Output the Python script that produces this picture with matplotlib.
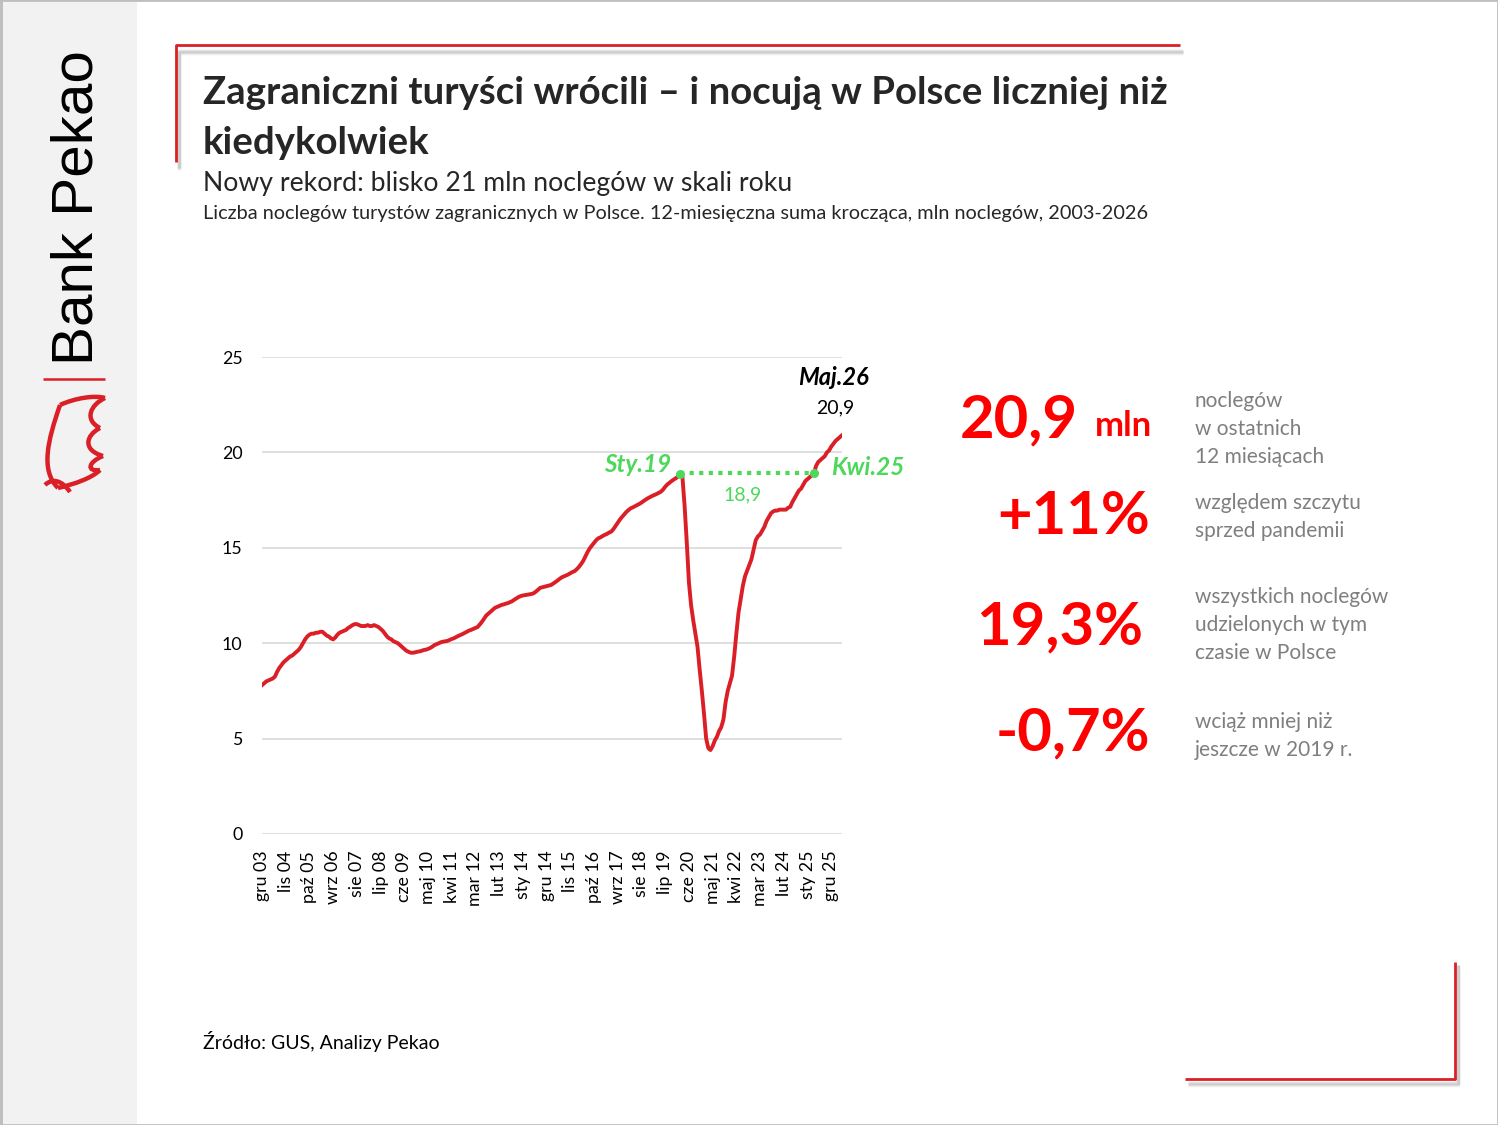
import matplotlib
matplotlib.use("Agg")
import matplotlib.pyplot as plt
from matplotlib.patches import Rectangle, PathPatch
from matplotlib.path import Path
from matplotlib.lines import Line2D
import numpy as np

plt.rcParams["font.family"] = ["Lato", "DejaVu Sans"]

# 12-month rolling sum of foreign tourists' nights, mln, Dec 2003 .. May 2026
values = [
    7.8,
    # 2004
    7.9, 8.0, 8.05, 8.1, 8.15, 8.25, 8.5, 8.7, 8.85, 9.0, 9.1, 9.2,
    # 2005
    9.3, 9.35, 9.45, 9.55, 9.65, 9.8, 10.0, 10.2, 10.35, 10.45, 10.5, 10.5,
    # 2006
    10.55, 10.55, 10.6, 10.6, 10.5, 10.4, 10.35, 10.25, 10.2, 10.3, 10.45, 10.55,
    # 2007
    10.6, 10.65, 10.7, 10.8, 10.87, 10.95, 11.0, 11.0, 10.95, 10.9, 10.9, 10.9,
    # 2008
    10.95, 10.9, 10.9, 10.95, 10.9, 10.85, 10.75, 10.65, 10.5, 10.35, 10.25, 10.2,
    # 2009
    10.1, 10.05, 10.0, 9.9, 9.8, 9.7, 9.6, 9.55, 9.5, 9.5, 9.52, 9.55,
    # 2010
    9.57, 9.6, 9.64, 9.66, 9.7, 9.75, 9.82, 9.9, 9.95, 10.0, 10.05, 10.08,
    # 2011
    10.1, 10.12, 10.17, 10.22, 10.26, 10.32, 10.38, 10.43, 10.48, 10.54, 10.6, 10.66,
    # 2012
    10.7, 10.75, 10.8, 10.85, 10.98, 11.12, 11.28, 11.45, 11.55, 11.65, 11.75, 11.85,
    # 2013
    11.9, 11.95, 12.0, 12.03, 12.07, 12.1, 12.15, 12.2, 12.28, 12.35, 12.42, 12.47,
    # 2014
    12.5, 12.52, 12.54, 12.56, 12.58, 12.62, 12.7, 12.8, 12.9, 12.93, 12.96, 12.99,
    # 2015
    13.02, 13.05, 13.12, 13.2, 13.28, 13.37, 13.45, 13.5, 13.55, 13.6, 13.67, 13.73,
    # 2016
    13.78, 13.88, 14.0, 14.15, 14.32, 14.55, 14.78, 14.97, 15.12, 15.26, 15.4, 15.5,
    # 2017
    15.55, 15.62, 15.68, 15.73, 15.8, 15.85, 15.98, 16.15, 16.32, 16.48, 16.62, 16.75,
    # 2018
    16.88, 16.98, 17.07, 17.12, 17.18, 17.24, 17.3, 17.37, 17.45, 17.53, 17.6, 17.66,
    # 2019
    17.72, 17.77, 17.82, 17.88, 17.94, 18.05, 18.2, 18.32, 18.41, 18.5, 18.58, 18.65,
    # 2020
    18.75, 18.85, 18.7, 17.2, 15.3, 13.2, 12.0, 11.2, 10.5, 9.8, 8.6, 7.5,
    # 2021
    6.3, 5.0, 4.5, 4.4, 4.6, 4.9, 5.1, 5.4, 5.6, 6.0, 6.9, 7.5,
    # 2022
    7.9, 8.3, 9.3, 10.5, 11.6, 12.3, 13.0, 13.5, 13.8, 14.1, 14.4, 14.9,
    # 2023
    15.4, 15.6, 15.7, 15.9, 16.1, 16.4, 16.6, 16.8, 16.9, 16.95, 16.95, 17.0,
    # 2024
    17.0, 17.0, 17.0, 17.1, 17.15, 17.4, 17.6, 17.8, 18.0, 18.1, 18.3, 18.5,
    # 2025
    18.6, 18.7, 18.8, 18.9, 19.3, 19.5, 19.6, 19.7, 19.8, 20.0, 20.1, 20.3,
    # 2026
    20.45, 20.6, 20.7, 20.8, 20.9,
]

tick_labels = ["gru 03", "lis 04", "paź 05", "wrz 06", "sie 07", "lip 08",
               "cze 09", "maj 10", "kwi 11", "mar 12", "lut 13", "sty 14",
               "gru 14", "lis 15", "paź 16", "wrz 17", "sie 18", "lip 19",
               "cze 20", "maj 21", "kwi 22", "mar 23", "lut 24", "sty 25",
               "gru 25"]
tick_step = 11

peak_idx, peak_label = 194, "Sty.19"
recover_idx, recover_label = 256, "Kwi.25"
level_value, level_label = 18.9, "18,9"
last_label, last_value_label = "Maj.26", "20,9"

stats = [("20,9", "noclegów\nw ostatnich\n12 miesiącach"),
         ("+11%", "względem szczytu\nsprzed pandemii"),
         ("19,3%", "wszystkich noclegów\nudzielonych w tym\nczasie w Polsce"),
         ("-0,7%", "wciąż mniej niż\njeszcze w 2019 r.")]

RED = "#DA1F26"
GREEN = "#4DD85B"
W, H = 1498, 1125

fig = plt.figure(figsize=(W / 100, H / 100), dpi=100)
fig.patch.set_facecolor("white")


def fx(px):
    return px / W


def fy(py):
    return 1 - py / H


# left grey band and frame
fig.add_artist(Rectangle((0, 0), fx(137), 1, transform=fig.transFigure,
                         facecolor="#F2F2F2", edgecolor="none", zorder=0))
fig.add_artist(Rectangle((0, 0), fx(3), 1, transform=fig.transFigure,
                         facecolor="#BFBFBF", edgecolor="none", zorder=1))
fig.add_artist(Rectangle((0, 0), 1, 1, transform=fig.transFigure,
                         facecolor="none", edgecolor="#BFBFBF", lw=2, zorder=5))


def fline(xs, ys, color, lw, z=3, alpha=1.0):
    fig.add_artist(Line2D([fx(x) for x in xs], [fy(y) for y in ys],
                          transform=fig.transFigure, color=color, lw=lw,
                          alpha=alpha, zorder=z, solid_capstyle="butt"))


# red brackets with soft shadow
for off, a in [(5, 0.10), (4, 0.15), (3, 0.2)]:
    fline([179, 179, 1183], [165 + off, 48 + off, 48 + off], "#7F7F7F", 2.5, 2, a)
    fline([1188, 1458, 1458], [1082 + off - 2, 1082 + off - 2, 965], "#7F7F7F", 2.5, 2, a)
fline([176, 176, 1180], [162, 45, 45], RED, 2.0)
fline([1185, 1455, 1455], [1079, 1079, 962], RED, 2.0)

# logo
fig.text(fx(78), fy(208), "Bank Pekao", rotation=90, ha="center", va="center",
         fontsize=42, color="black", family=["Liberation Sans", "DejaVu Sans"])
fline([43, 105], [379, 379], RED, 1.8)
logo_paths = [
    [(60, 405), (48, 440), (40, 470), (58, 488)],
    [(58, 488), (75, 484), (92, 478), (100, 470)],
    [(60, 405), (75, 398), (95, 395), (105, 398)],
    [(105, 398), (90, 405), (84, 420), (100, 428)],
    [(100, 428), (86, 435), (82, 450), (103, 456)],
    [(103, 456), (88, 462), (86, 472), (100, 470)],
    [(45, 485), (52, 478), (62, 480), (70, 492)],
]
for pts in logo_paths:
    verts = [(fx(x), fy(y)) for x, y in pts]
    path = Path(verts, [Path.MOVETO, Path.CURVE4, Path.CURVE4, Path.CURVE4])
    fig.add_artist(PathPatch(path, transform=fig.transFigure, facecolor="none",
                             edgecolor=RED, lw=3.2, zorder=3))

# titles
fig.text(fx(203), fy(93), "Zagraniczni turyści wrócili – i nocują w Polsce liczniej niż",
         fontsize=27.6, fontweight="bold", color="#262626", va="center")
fig.text(fx(203), fy(143), "kiedykolwiek",
         fontsize=27.6, fontweight="bold", color="#262626", va="center")
fig.text(fx(203), fy(184), "Nowy rekord: blisko 21 mln noclegów w skali roku",
         fontsize=19.2, color="#262626", va="center")
fig.text(fx(203), fy(214),
         "Liczba noclegów turystów zagranicznych w Polsce. 12-miesięczna suma krocząca, mln noclegów, 2003-2026",
         fontsize=14.3, color="#262626", va="center")
fig.text(fx(203), fy(1042), "Źródło: GUS, Analizy Pekao",
         fontsize=14, color="black", va="center")

# chart
ax = fig.add_axes([fx(262), fy(834), fx(842) - fx(262), fy(357) - fy(834)])
x = np.arange(len(values))
ax.plot(x, values, color=RED, lw=2.8, solid_joinstyle="round", zorder=3)
ax.set_xlim(0, len(values) - 1)
ax.set_ylim(0, 25)
ax.set_yticks(range(0, 26, 5))
ax.yaxis.grid(True, color="#D9D9D9", lw=1.2)
ax.set_axisbelow(True)
for s in ax.spines.values():
    s.set_visible(False)
ax.set_xticks(range(0, tick_step * len(tick_labels), tick_step))
ax.set_xticklabels(tick_labels, rotation=90, fontsize=12.5, color="black")
ax.tick_params(axis="both", length=0, labelsize=12.8, colors="black")
ax.tick_params(axis="y", pad=14)
ax.tick_params(axis="x", pad=12)

# pre-pandemic level
ax.plot([peak_idx, recover_idx], [level_value, level_value], color=GREEN,
        lw=3, linestyle=(0, (1, 1.3)), zorder=4)
ax.scatter([peak_idx, recover_idx], [values[peak_idx], values[recover_idx]],
           color=GREEN, s=30, zorder=5)
ax.text(peak_idx - 4, 19.35, peak_label, color=GREEN, fontsize=17.5,
        fontweight="bold", style="italic", ha="right", va="center")
ax.text(recover_idx + 8, 19.2, recover_label, color=GREEN, fontsize=17.5,
        fontweight="bold", style="italic", ha="left", va="center")
ax.text((peak_idx + recover_idx) / 2 - 2, 17.8, level_label, color=GREEN,
        fontsize=14, ha="center", va="center")
ax.text(len(values) - 5, 23.95, last_label, color="black", fontsize=17,
        fontweight="bold", style="italic", ha="center", va="center")
ax.text(len(values) - 4, 22.35, last_value_label, color="black", fontsize=14,
        ha="center", va="center")

# key numbers on the right
big_y = [420, 517, 627, 733]
big_right = [1078, 1150, 1143, 1150]
note_y = [400, 502, 596, 721]
for (num, note), yb, xr, yn in zip(stats, big_y, big_right, note_y):
    fig.text(fx(xr), fy(yb), num, color="#FF0000", fontsize=43,
             fontweight="bold", ha="right", va="center")
    fig.text(fx(1195), fy(yn - 9), note, color="#7F7F7F", fontsize=15,
             ha="left", va="top", linespacing=1.5)
fig.text(fx(1095), fy(426), "mln", color="#FF0000", fontsize=25,
         fontweight="bold", ha="left", va="center")

fig.savefig("out.png", dpi=100, facecolor="white")
